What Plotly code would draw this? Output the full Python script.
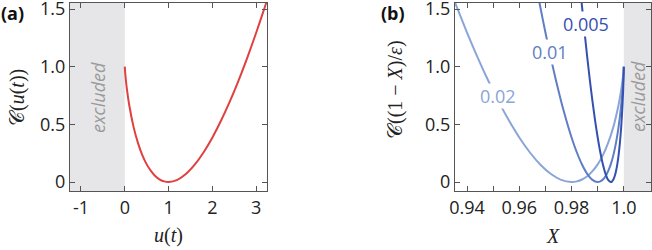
import plotly.graph_objects as go

# ---- data ----
u_vals = [0.0, 0.005, 0.01, 0.02, 0.05, 0.1, 0.2, 0.3, 0.4, 0.5, 0.6, 0.7, 0.8, 0.9, 1.0,
          1.2, 1.4, 1.6, 1.8, 2.0, 2.2, 2.4, 2.6, 2.8, 3.0, 3.2, 3.25]
c_u = [1.0, 0.968, 0.944, 0.902, 0.800, 0.670, 0.478, 0.339, 0.233, 0.153, 0.094, 0.050, 0.0215, 0.0052, 0.0,
       0.0188, 0.071, 0.152, 0.258, 0.386, 0.535, 0.701, 0.884, 1.083, 1.296, 1.522, 1.581]

X_002 = [1.0, 0.9999, 0.9998, 0.9996, 0.999, 0.998, 0.996, 0.994, 0.992, 0.99, 0.988, 0.986, 0.984, 0.982, 0.98,
         0.976, 0.972, 0.968, 0.964, 0.96, 0.956, 0.952, 0.948, 0.944, 0.94, 0.936, 0.935]
C_002 = [1.0, 0.968, 0.944, 0.902, 0.800, 0.670, 0.478, 0.339, 0.233, 0.153, 0.094, 0.050, 0.0215, 0.0052, 0.0,
         0.0188, 0.071, 0.152, 0.258, 0.386, 0.535, 0.701, 0.884, 1.083, 1.296, 1.522, 1.581]
X_001 = [1.0, 0.99995, 0.9999, 0.9998, 0.9995, 0.999, 0.998, 0.997, 0.996, 0.995, 0.994, 0.993, 0.992, 0.991, 0.99,
         0.988, 0.986, 0.984, 0.982, 0.98, 0.978, 0.976, 0.974, 0.972, 0.97, 0.968, 0.9675]
C_001 = [1.0, 0.968, 0.944, 0.902, 0.800, 0.670, 0.478, 0.339, 0.233, 0.153, 0.094, 0.050, 0.0215, 0.0052, 0.0,
         0.0188, 0.071, 0.152, 0.258, 0.386, 0.535, 0.701, 0.884, 1.083, 1.296, 1.522, 1.581]
X_0005 = [1.0, 0.999975, 0.99995, 0.9999, 0.99975, 0.9995, 0.999, 0.9985, 0.998, 0.9975, 0.997, 0.9965, 0.996, 0.9955, 0.995,
          0.994, 0.993, 0.992, 0.991, 0.99, 0.989, 0.988, 0.987, 0.986, 0.985, 0.984, 0.98375]
C_0005 = [1.0, 0.968, 0.944, 0.902, 0.800, 0.670, 0.478, 0.339, 0.233, 0.153, 0.094, 0.050, 0.0215, 0.0052, 0.0,
          0.0188, 0.071, 0.152, 0.258, 0.386, 0.535, 0.701, 0.884, 1.083, 1.296, 1.522, 1.581]

eps_labels = ["0.02", "0.01", "0.005"]
label_pos = [(0.9519, 0.746), (0.9719, 1.127), (0.9854, 1.37)]

left_xticks = [-1, 0, 1, 2, 3]
left_xtext = ["-1", "0", "1", "2", "3"]
y_ticks = [0, 0.5, 1.0, 1.5]
y_text = ["0", "0.5", "1.0", "1.5"]
right_xticks = [0.94, 0.96, 0.98, 1.0]
right_xtext = ["0.94", "0.96", "0.98", "1.0"]

# ---- style ----
W, H = 652, 250
RED = "#e0403f"
BLUES = ["#8aa5d8", "#5f7ec6", "#3450b0"]
GRAY = "#e6e6e8"
AX = "#555555"
TICKF = dict(family="Open Sans", size=18, color="#222")
MATHF = dict(family="Liberation Serif", size=20, color="#222")

def px_x(p):
    return p / W

def px_y(p):
    return 1 - p / H

fig = go.Figure()

fig.add_trace(go.Scatter(x=u_vals, y=c_u, mode="lines", line=dict(color=RED, width=2, shape="spline", smoothing=0.6),
                         xaxis="x", yaxis="y", showlegend=False, hoverinfo="skip"))

for xs, cs, col in [(X_002, C_002, BLUES[0]), (X_001, C_001, BLUES[1]), (X_0005, C_0005, BLUES[2])]:
    fig.add_trace(go.Scatter(x=xs, y=cs, mode="lines", line=dict(color=col, width=2, shape="spline", smoothing=0.6),
                             xaxis="x2", yaxis="y2", showlegend=False, hoverinfo="skip"))

axis_common = dict(showline=True, linecolor=AX, linewidth=1, mirror="ticks", ticks="inside", ticklen=5,
                   tickcolor=AX, tickwidth=1, showgrid=False, zeroline=False, tickfont=TICKF, automargin=False,
                   ticklabeloverflow="allow")

ydom = [px_y(191), px_y(3)]
fig.update_layout(
    width=W, height=H, margin=dict(l=0, r=0, t=0, b=0, autoexpand=False),
    paper_bgcolor="white", plot_bgcolor="white",
    xaxis=dict(domain=[px_x(70), px_x(267)], range=[-1.25, 3.245], tickvals=left_xticks, ticktext=left_xtext,
               anchor="y", **axis_common),
    yaxis=dict(domain=ydom, range=[-0.078, 1.552], tickvals=y_ticks, ticktext=y_text, anchor="x", **axis_common),
    xaxis2=dict(domain=[px_x(455), px_x(651)], range=[0.9354, 1.0104], tickvals=right_xticks, ticktext=right_xtext,
                anchor="y2", minor=dict(tickvals=[0.95, 0.97, 0.99], ticks="inside", ticklen=5, tickcolor=AX),
                **axis_common),
    yaxis2=dict(domain=ydom, range=[-0.078, 1.552], tickvals=y_ticks, ticktext=y_text, anchor="x2", **axis_common),
)

# excluded regions
fig.add_shape(type="rect", xref="x", yref="y domain", x0=-1.25, x1=0, y0=0, y1=1, fillcolor=GRAY,
              line=dict(width=0), layer="below")
fig.add_shape(type="rect", xref="x2", yref="y2 domain", x0=1.0, x1=1.0104, y0=0, y1=1, fillcolor=GRAY,
              line=dict(width=0), layer="below")

annos = []
C = dict(xanchor="center", yanchor="middle", showarrow=False, xref="paper", yref="paper")
exf = dict(family="Open Sans", size=18, color="#9a9a9a")
annos.append(dict(text="<i>excluded</i>", x=px_x(98), y=px_y(98), textangle=-90, font=exf, **C))
annos.append(dict(text="<i>excluded</i>", x=px_x(638), y=px_y(97), textangle=-90, font=exf, **C))

for lab, (lx, ly), col in zip(eps_labels, label_pos, BLUES):
    annos.append(dict(text=lab, x=lx, y=ly, xref="x2", yref="y2", showarrow=False, xanchor="center",
                      yanchor="middle", font=dict(family="Open Sans", size=18, color=col),
                      bgcolor="white", borderpad=0))

annos.append(dict(text="<b>(a)</b>", x=px_x(12), y=px_y(13), font=dict(family="Open Sans", size=18, color="#111"), **C))
annos.append(dict(text="<b>(b)</b>", x=px_x(393), y=px_y(13), font=dict(family="Open Sans", size=18, color="#111"), **C))

annos.append(dict(text="<i>u</i>(<i>t</i>)", x=px_x(168), y=px_y(235), font=MATHF, **C))
annos.append(dict(text="<i>X</i>", x=px_x(553), y=px_y(236), font=MATHF, **C))
annos.append(dict(text="𝒞(<i>u</i>(<i>t</i>))", x=px_x(17), y=px_y(98), textangle=-90, font=MATHF, **C))
annos.append(dict(text="𝒞((1 − <i>X</i>)/<i>ε</i>)", x=px_x(395), y=px_y(90), textangle=-90, font=MATHF, **C))

fig.update_layout(annotations=annos)

fig.write_html("out.html", config={"displayModeBar": False},
               post_script="document.body.style.margin='0';document.body.style.overflow='hidden';")
